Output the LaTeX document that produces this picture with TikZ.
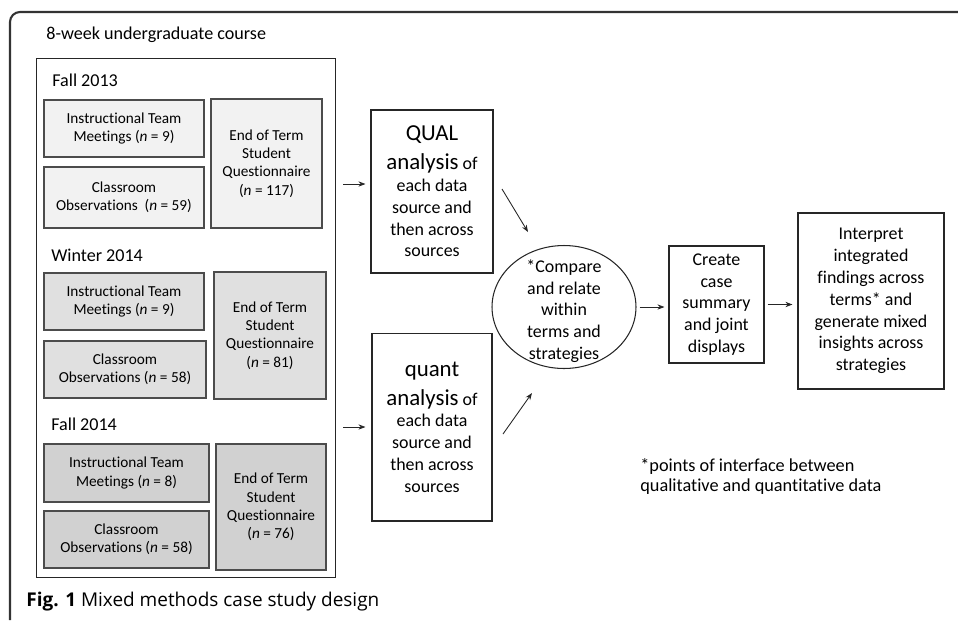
\documentclass[tikz,border=0pt]{standalone}
\usepackage{fontspec}
\setmainfont[Ligatures={NoCommon}]{Carlito}
\newfontfamily\capfont{Open Sans}
\usepackage{tikz}
\usetikzlibrary{shapes.geometric, arrows.meta, positioning, calc}
\definecolor{framegray}{gray}{0.2}
\definecolor{boxline}{gray}{0.3}
\definecolor{fallA}{gray}{0.95}
\definecolor{winter}{gray}{0.88}
\definecolor{fallB}{gray}{0.82}
\newcommand{\bigword}{\fontsize{13}{15.5}\selectfont}

\begin{document}
\begin{tikzpicture}[
  x=0.02cm, y=-0.02cm,
  srcbox/.style={rectangle, draw=boxline, line width=0.6pt, align=center, inner sep=1pt, font=\fontsize{8.7}{10.4}\selectfont},
  stepbox/.style={rectangle, draw=black!85, line width=0.6pt, align=center, inner sep=1pt, font=\fontsize{10.2}{12.4}\selectfont},
  termlabel/.style={anchor=base west, inner sep=0pt, font=\fontsize{10.3}{12}\selectfont},
  arrow/.style={-{Stealth[length=4pt, width=3pt]}, line width=0.5pt, color=black!85}
]
  \useasboundingbox (0,0) rectangle (958,620);

  % Cadre extérieur
  \draw[framegray, line width=1.2pt, rounded corners=0.2cm] (958,12) -- (10,12) -- (10,620);
  \node[termlabel] (course) at (46,39) {8-week undergraduate course};
  \node[draw=black!85, line width=0.6pt, minimum width=6cm, minimum height=10.4cm] (terms) at (186,318) {};

  % Fall 2013
  \node[termlabel] (t1) at (52,86) {Fall 2013};
  \node[srcbox, fill=fallA, minimum width=3.2cm, minimum height=1.14cm] (it1) at (124,128.5) {Instructional Team\\Meetings (\textit{n} = 9)};
  \node[srcbox, fill=fallA, minimum width=3.2cm, minimum height=1.22cm] (co1) at (124,197.5) {Classroom\\Observations\ \ (\textit{n} = 59)};
  \node[srcbox, fill=fallA, minimum width=2.22cm, minimum height=2.58cm] (eq1) at (266.5,163.5) {End of Term\\Student\\Questionnaire\\(\textit{n} = 117)};

  % Winter 2014
  \node[termlabel] (t2) at (51,261) {Winter 2014};
  \node[srcbox, fill=winter, minimum width=3.2cm, minimum height=1.14cm] (it2) at (124,301.5) {Instructional Team\\Meetings (\textit{n} = 9)};
  \node[srcbox, fill=winter, minimum width=3.24cm, minimum height=1.14cm] (co2) at (125,369.5) {Classroom\\Observations (\textit{n} = 58)};
  \node[srcbox, fill=winter, minimum width=2.24cm, minimum height=2.54cm] (eq2) at (270,335.5) {End of Term\\Student\\Questionnaire\\(\textit{n} = 81)};

  % Fall 2014
  \node[termlabel] (t3) at (51,430) {Fall 2014};
  \node[srcbox, fill=fallB, minimum width=3.3cm, minimum height=1.16cm] (it3) at (126.5,473) {Instructional Team\\Meetings (\textit{n} = 8)};
  \node[srcbox, fill=fallB, minimum width=3.3cm, minimum height=1.14cm] (co3) at (126.5,539.5) {Classroom\\Observations (\textit{n} = 58)};
  \node[srcbox, fill=fallB, minimum width=2.2cm, minimum height=2.52cm] (eq3) at (271,507) {End of Term\\Student\\Questionnaire\\(\textit{n} = 76)};

  % Analyses
  \node[stepbox, minimum width=2.44cm, minimum height=3.26cm] (qual) at (432,191.5) {{\bigword QUAL}\\[4pt]{\bigword analysis} of\\each data\\source and\\then across\\sources};
  \node[stepbox, minimum width=2.4cm, minimum height=3.76cm] (quant) at (432,427) {{\bigword quant}\\[4pt]{\bigword analysis} of\\each data\\source and\\then across\\sources};

  % Comparaison
  \node[ellipse, draw=black!85, line width=0.6pt, minimum width=2.88cm, minimum height=2.46cm, inner sep=0pt] (cmp) at (564,307) {};
  \node[align=center, inner sep=0pt, font=\fontsize{10.2}{12.4}\selectfont] (cmptext) at ([yshift=-0.08cm]cmp.center) {*Compare\\and relate\\within\\terms and\\strategies};

  \node[stepbox, minimum width=1.9cm, minimum height=2.34cm] (create) at (716.5,304.5) {Create\\case\\summary\\and joint\\displays};
  \node[stepbox, minimum width=2.92cm, minimum height=3.52cm] (interp) at (871,301) {Interpret\\integrated\\findings across\\terms* and\\generate mixed\\insights across\\strategies};

  \node[anchor=west, align=left, inner sep=0pt, font=\fontsize{10.4}{11.4}\selectfont] (note) at (640,476) {*points of interface between\\qualitative and quantitative data};
  \node[anchor=west, inner sep=0pt, font=\capfont\fontsize{10.8}{13}\selectfont] (caption) at (26,602) {\textbf{Fig. 1} Mixed methods case study design};

  % Flèches
  \coordinate (qin) at (0,184);
  \draw[arrow, shorten <=0.14cm, shorten >=0.1cm] (terms.east |- qin) -- (qual.west |- qin);
  \draw[arrow, shorten <=0.14cm, shorten >=0.12cm] (terms.east |- quant.west) -- (quant.west);
  \coordinate (qualout) at (502,189);
  \coordinate (cmpinA) at (528,232);
  \coordinate (quantout) at (503,434);
  \coordinate (cmpinB) at (532,393);
  \draw[arrow] (qualout) -- (cmpinA);
  \draw[arrow] (quantout) -- (cmpinB);
  \draw[arrow, shorten <=0.06cm, shorten >=0.08cm] (cmp.east) -- (cmp.east -| create.west);
  \draw[arrow, shorten <=0.06cm, shorten >=0.1cm] (create.east) -- (create.east -| interp.west);
\end{tikzpicture}
\end{document}
